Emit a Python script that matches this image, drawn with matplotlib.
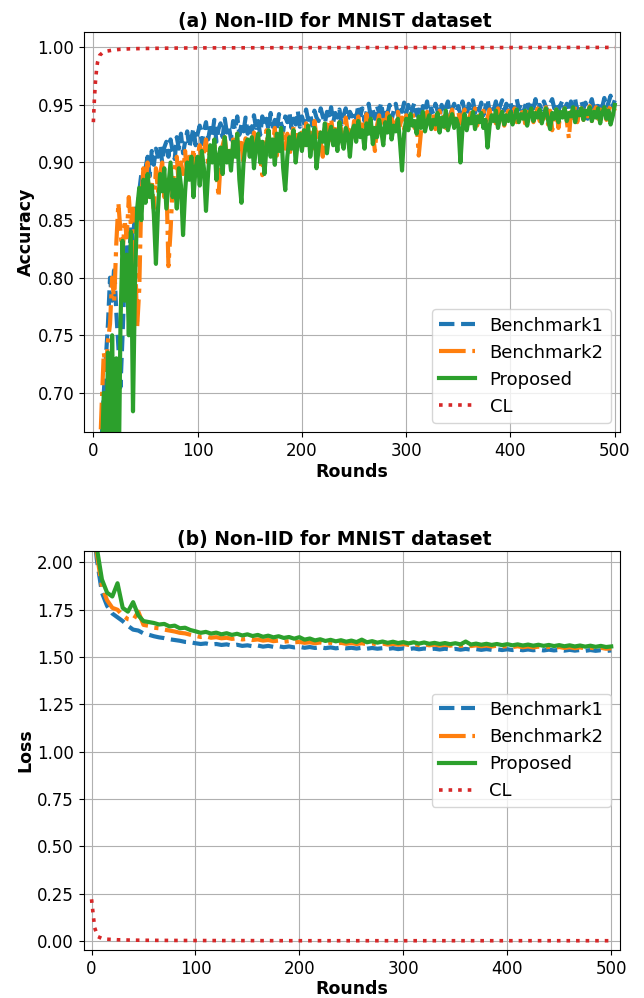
import numpy as np
import matplotlib
matplotlib.use("Agg")
import matplotlib.pyplot as plt

# ---------------- data ----------------
acc_step = 2   # rounds between stored accuracy samples
loss_step = 5  # rounds between stored loss samples

acc_bench1 = [
    0.45, 0.52, 0.58, 0.63, 0.66, 0.70, 0.73, 0.76, 0.80, 0.78, 0.81, 0.77, 0.74, 0.705, 0.75, 0.80, 0.83, 0.81, 0.845, 0.83, 0.86, 0.85, 0.875, 0.89, 0.88,
    0.895, 0.905, 0.888, 0.91, 0.898, 0.912, 0.905, 0.915, 0.9, 0.913, 0.918, 0.905, 0.92, 0.91, 0.903, 0.922, 0.912, 0.925, 0.908, 0.918, 0.927, 0.913, 0.921, 0.93, 0.915,
    0.925, 0.932, 0.916, 0.928, 0.935, 0.92, 0.93, 0.924, 0.937, 0.918, 0.929, 0.934, 0.922, 0.938, 0.926, 0.931, 0.92, 0.936, 0.928, 0.94, 0.924, 0.933, 0.927, 0.939, 0.925,
    0.934, 0.926, 0.941, 0.93, 0.936, 0.924, 0.94, 0.932, 0.938, 0.928, 0.943, 0.931, 0.937, 0.929, 0.942, 0.934, 0.927, 0.94, 0.935, 0.944, 0.93, 0.938, 0.933, 0.945, 0.931,
    0.94, 0.934, 0.946, 0.937, 0.942, 0.932, 0.945, 0.939, 0.936, 0.947, 0.94, 0.934, 0.944, 0.938, 0.948, 0.935, 0.943, 0.939, 0.946, 0.933, 0.941, 0.947, 0.937, 0.944, 0.94,
    0.945, 0.938, 0.95, 0.941, 0.947, 0.936, 0.944, 0.951, 0.94, 0.946, 0.938, 0.949, 0.943, 0.952, 0.939, 0.947, 0.942, 0.95, 0.937, 0.945, 0.951, 0.941, 0.948, 0.944, 0.952,
    0.943, 0.95, 0.939, 0.947, 0.952, 0.941, 0.946, 0.938, 0.949, 0.944, 0.953, 0.94, 0.947, 0.942, 0.951, 0.945, 0.939, 0.95, 0.943, 0.948, 0.953, 0.941, 0.946, 0.951, 0.944,
    0.949, 0.942, 0.953, 0.945, 0.94, 0.951, 0.947, 0.954, 0.943, 0.949, 0.945, 0.952, 0.941, 0.948, 0.955, 0.944, 0.95, 0.946, 0.953, 0.942, 0.949, 0.954, 0.945, 0.951, 0.947,
    0.952, 0.944, 0.95, 0.955, 0.946, 0.951, 0.942, 0.949, 0.954, 0.945, 0.952, 0.947, 0.955, 0.943, 0.95, 0.946, 0.953, 0.948, 0.944, 0.951, 0.955, 0.947, 0.952, 0.945, 0.95,
    0.954, 0.946, 0.951, 0.944, 0.953, 0.948, 0.955, 0.945, 0.95, 0.953, 0.947, 0.952, 0.938, 0.949, 0.955, 0.946, 0.951, 0.944, 0.953, 0.948, 0.956, 0.947, 0.952, 0.958, 0.949,
    0.954,
]
acc_bench2 = [
    0.40, 0.50, 0.58, 0.64, 0.69, 0.735, 0.72, 0.745, 0.76, 0.80, 0.78, 0.83, 0.865, 0.84, 0.82, 0.85, 0.835, 0.87, 0.845, 0.86, 0.82, 0.757, 0.79, 0.87, 0.895,
    0.88, 0.90, 0.87, 0.885, 0.86, 0.895, 0.875, 0.89, 0.90, 0.87, 0.885, 0.81, 0.84, 0.88, 0.895, 0.905, 0.88, 0.9, 0.89, 0.91, 0.885, 0.905, 0.895, 0.912, 0.89,
    0.905, 0.915, 0.895, 0.91, 0.92, 0.9, 0.912, 0.905, 0.918, 0.895, 0.87, 0.9, 0.915, 0.922, 0.905, 0.913, 0.9, 0.92, 0.908, 0.925, 0.91, 0.917, 0.898, 0.921, 0.912,
    0.918, 0.908, 0.926, 0.913, 0.921, 0.905, 0.889, 0.915, 0.928, 0.91, 0.92, 0.914, 0.93, 0.906, 0.922, 0.917, 0.928, 0.912, 0.925, 0.905, 0.919, 0.931, 0.914, 0.924, 0.918,
    0.928, 0.915, 0.934, 0.92, 0.926, 0.912, 0.936, 0.922, 0.93, 0.918, 0.905, 0.925, 0.933, 0.919, 0.938, 0.924, 0.929, 0.916, 0.935, 0.927, 0.921, 0.939, 0.926, 0.932, 0.92,
    0.936, 0.924, 0.94, 0.929, 0.933, 0.921, 0.942, 0.93, 0.936, 0.926, 0.91, 0.932, 0.941, 0.927, 0.937, 0.931, 0.943, 0.925, 0.938, 0.933, 0.928, 0.944, 0.932, 0.939, 0.929,
    0.941, 0.932, 0.938, 0.945, 0.93, 0.936, 0.906, 0.925, 0.94, 0.934, 0.944, 0.931, 0.938, 0.942, 0.929, 0.936, 0.945, 0.933, 0.94, 0.93, 0.943, 0.937, 0.946, 0.932, 0.939,
    0.944, 0.934, 0.94, 0.946, 0.931, 0.938, 0.943, 0.935, 0.947, 0.932, 0.941, 0.937, 0.945, 0.933, 0.939, 0.946, 0.936, 0.942, 0.934, 0.947, 0.938, 0.944, 0.932, 0.94, 0.945,
    0.936, 0.943, 0.947, 0.935, 0.941, 0.937, 0.948, 0.934, 0.944, 0.939, 0.946, 0.935, 0.942, 0.947, 0.936, 0.943, 0.938, 0.948, 0.933, 0.945, 0.928, 0.94, 0.946, 0.93, 0.943,
    0.938, 0.947, 0.936, 0.921, 0.944, 0.939, 0.949, 0.935, 0.943, 0.947, 0.937, 0.945, 0.94, 0.949, 0.936, 0.944, 0.948, 0.938, 0.946, 0.941, 0.95, 0.937, 0.945, 0.949, 0.94,
    0.947,
]
acc_proposed = [
    0.30, 0.40, 0.50, 0.58, 0.64, 0.70, 0.62, 0.735, 0.60, 0.75, 0.63, 0.73, 0.60, 0.76, 0.832, 0.78, 0.82, 0.75, 0.84, 0.684, 0.80, 0.86, 0.878, 0.85, 0.885,
    0.865, 0.89, 0.87, 0.88, 0.855, 0.812, 0.86, 0.89, 0.875, 0.895, 0.86, 0.88, 0.9, 0.87, 0.885, 0.86, 0.895, 0.88, 0.837, 0.875, 0.9, 0.885, 0.905, 0.87, 0.895,
    0.905, 0.88, 0.91, 0.895, 0.858, 0.89, 0.915, 0.9, 0.92, 0.885, 0.905, 0.913, 0.89, 0.922, 0.9, 0.91, 0.893, 0.918, 0.905, 0.925, 0.885, 0.865, 0.9, 0.915, 0.92,
    0.905, 0.922, 0.895, 0.915, 0.925, 0.9, 0.918, 0.89, 0.912, 0.928, 0.905, 0.92, 0.898, 0.925, 0.91, 0.93, 0.895, 0.876, 0.905, 0.922, 0.912, 0.928, 0.9, 0.918, 0.925,
    0.91, 0.928, 0.915, 0.932, 0.905, 0.92, 0.93, 0.895, 0.912, 0.926, 0.918, 0.934, 0.908, 0.924, 0.931, 0.915, 0.928, 0.91, 0.935, 0.92, 0.912, 0.93, 0.925, 0.905, 0.927,
    0.932, 0.918, 0.936, 0.922, 0.928, 0.912, 0.934, 0.925, 0.938, 0.916, 0.93, 0.922, 0.937, 0.928, 0.915, 0.935, 0.926, 0.94, 0.92, 0.932, 0.927, 0.938, 0.918, 0.893, 0.925,
    0.938, 0.928, 0.942, 0.932, 0.936, 0.925, 0.94, 0.93, 0.944, 0.927, 0.935, 0.941, 0.929, 0.937, 0.933, 0.943, 0.926, 0.939, 0.931, 0.945, 0.928, 0.936, 0.942, 0.93, 0.938,
    0.932, 0.90, 0.93, 0.942, 0.928, 0.938, 0.934, 0.944, 0.929, 0.94, 0.935, 0.943, 0.93, 0.937, 0.913, 0.932, 0.941, 0.936, 0.945, 0.93, 0.939, 0.944, 0.933, 0.941, 0.936,
    0.944, 0.933, 0.94, 0.946, 0.935, 0.942, 0.938, 0.945, 0.932, 0.941, 0.947, 0.936, 0.943, 0.939, 0.946, 0.934, 0.942, 0.947, 0.937, 0.929, 0.943, 0.938, 0.946, 0.935, 0.944,
    0.939, 0.947, 0.936, 0.943, 0.94, 0.948, 0.935, 0.944, 0.941, 0.947, 0.937, 0.945, 0.942, 0.948, 0.936, 0.944, 0.939, 0.947, 0.934, 0.943, 0.948, 0.938, 0.945, 0.933, 0.94,
    0.95,
]
cl_acc_rounds = [0, 1, 2, 3, 4, 6, 9, 13, 18, 25, 35, 50, 75, 100, 150, 200, 300, 400, 500]
cl_acc = [0.935, 0.955, 0.970, 0.980, 0.987, 0.993, 0.9955, 0.9967, 0.9975, 0.9982,
          0.9987, 0.999, 0.9993, 0.9995, 0.9996, 0.9997, 0.9998, 0.9998, 0.9999]

loss_bench1 = [
    2.30, 2.02, 1.84, 1.77, 1.73, 1.71, 1.69, 1.665, 1.645, 1.64,
    1.625, 1.618, 1.61, 1.604, 1.60, 1.594, 1.59, 1.586, 1.58, 1.578,
    1.573, 1.569, 1.572, 1.566, 1.569, 1.564, 1.567, 1.561, 1.565, 1.559,
    1.562, 1.557, 1.561, 1.555, 1.559, 1.554, 1.557, 1.552, 1.556, 1.551,
    1.554, 1.549, 1.553, 1.548, 1.552, 1.547, 1.551, 1.546, 1.55, 1.546,
    1.549, 1.545, 1.549, 1.544, 1.548, 1.544, 1.547, 1.543, 1.547, 1.542,
    1.546, 1.542, 1.546, 1.541, 1.545, 1.541, 1.544, 1.54, 1.544, 1.54,
    1.543, 1.539, 1.543, 1.539, 1.542, 1.538, 1.542, 1.538, 1.541, 1.537,
    1.541, 1.537, 1.54, 1.536, 1.54, 1.536, 1.539, 1.535, 1.539, 1.535,
    1.538, 1.534, 1.538, 1.534, 1.537, 1.533, 1.537, 1.533, 1.536, 1.532,
    1.535,
]
loss_bench2 = [
    2.30, 2.05, 1.87, 1.80, 1.76, 1.75, 1.72, 1.70, 1.695, 1.74,
    1.67, 1.665, 1.655, 1.652, 1.645, 1.64, 1.635, 1.628, 1.625, 1.618,
    1.612, 1.606, 1.609, 1.602, 1.605, 1.599, 1.602, 1.596, 1.599, 1.593,
    1.596, 1.59, 1.593, 1.587, 1.59, 1.584, 1.587, 1.581, 1.584, 1.578,
    1.58, 1.575, 1.578, 1.573, 1.577, 1.572, 1.576, 1.571, 1.575, 1.57,
    1.574, 1.569, 1.573, 1.568, 1.572, 1.567, 1.571, 1.566, 1.57, 1.565,
    1.569, 1.564, 1.568, 1.563, 1.567, 1.562, 1.566, 1.561, 1.565, 1.56,
    1.564, 1.559, 1.563, 1.558, 1.562, 1.557, 1.561, 1.556, 1.56, 1.555,
    1.558, 1.553, 1.557, 1.552, 1.556, 1.551, 1.555, 1.55, 1.554, 1.549,
    1.553, 1.548, 1.552, 1.547, 1.551, 1.546, 1.55, 1.545, 1.549, 1.544,
    1.546,
]
loss_proposed = [
    2.30, 2.08, 1.91, 1.84, 1.82, 1.89, 1.76, 1.74, 1.79, 1.72,
    1.69, 1.685, 1.68, 1.672, 1.675, 1.662, 1.666, 1.652, 1.655, 1.643,
    1.636, 1.628, 1.633, 1.624, 1.629, 1.62, 1.626, 1.617, 1.623, 1.614,
    1.62, 1.611, 1.617, 1.607, 1.613, 1.604, 1.61, 1.601, 1.606, 1.597,
    1.605, 1.592, 1.598, 1.588, 1.594, 1.585, 1.591, 1.583, 1.589, 1.581,
    1.587, 1.579, 1.592, 1.578, 1.584, 1.576, 1.582, 1.575, 1.581, 1.574,
    1.579, 1.572, 1.578, 1.571, 1.577, 1.57, 1.575, 1.569, 1.574, 1.568,
    1.573, 1.567, 1.582, 1.566, 1.571, 1.565, 1.57, 1.564, 1.569, 1.563,
    1.568, 1.562, 1.567, 1.561, 1.566, 1.56, 1.565, 1.559, 1.564, 1.558,
    1.563, 1.557, 1.562, 1.556, 1.561, 1.555, 1.56, 1.554, 1.559, 1.553,
    1.556,
]
cl_loss_rounds = [0, 1, 2, 3, 6, 10, 15, 25, 40, 60, 100, 200, 300, 400, 500]
cl_loss = [0.22, 0.17, 0.12, 0.07, 0.023, 0.013, 0.009, 0.006, 0.004, 0.003,
           0.002, 0.001, 0.001, 0.001, 0.001]

labels = ["Benchmark1", "Benchmark2", "Proposed", "CL"]
titles = ["(a) Non-IID for MNIST dataset", "(b) Non-IID for MNIST dataset"]

# ---------------- styles ----------------
c_blue, c_orange, c_green, c_red = "#1f77b4", "#ff7f0e", "#2ca02c", "#d62728"


def xs(vals, step):
    return np.arange(len(vals)) * step


fig = plt.figure(figsize=(6.44, 9.98), dpi=100)
ax1 = fig.add_axes([0.1304, 0.5671, 0.8323, 0.4005])
ax2 = fig.add_axes([0.1297, 0.0481, 0.8323, 0.4001])

panels = [
    (ax1, acc_step, (acc_bench1, acc_bench2, acc_proposed, cl_acc_rounds, cl_acc), titles[0], "Accuracy", "lower right"),
    (ax2, loss_step, (loss_bench1, loss_bench2, loss_proposed, cl_loss_rounds, cl_loss), titles[1], "Loss", "center right"),
]
for ax, st, (b1, b2, pr, clr, cl), title, ylab, loc in panels:
    ax.plot(xs(b1, st), b1, color=c_blue, ls="--", lw=3, label=labels[0])
    ax.plot(xs(b2, st), b2, color=c_orange, ls="-.", lw=3, label=labels[1])
    ax.plot(xs(pr, st), pr, color=c_green, ls="-", lw=3, label=labels[2])
    ax.plot(clr, cl, color=c_red, ls=":", lw=2.6, label=labels[3])
    ax.grid(True)
    ax.set_title(title, fontsize=13.5, fontweight="bold", pad=4, x=0.468)
    ax.set_xlabel("Rounds", fontsize=12.5, fontweight="bold", labelpad=2)
    ax.set_ylabel(ylab, fontsize=12.5, fontweight="bold", labelpad=2)
    ax.tick_params(labelsize=12)
    ax.legend(loc=loc, fontsize=13)

ax1.set_xlim(-9, 505)
ax1.set_ylim(0.666, 1.013)
ax1.set_yticks(np.arange(0.70, 1.001, 0.05))
ax1.set_xticks([0, 100, 200, 300, 400, 500])

ax2.set_xlim(-7.7, 508)
ax2.set_ylim(-0.048, 2.062)
ax2.set_yticks(np.arange(0.0, 2.001, 0.25))
ax2.set_xticks([0, 100, 200, 300, 400, 500])

fig.savefig("out.png", dpi=100)
